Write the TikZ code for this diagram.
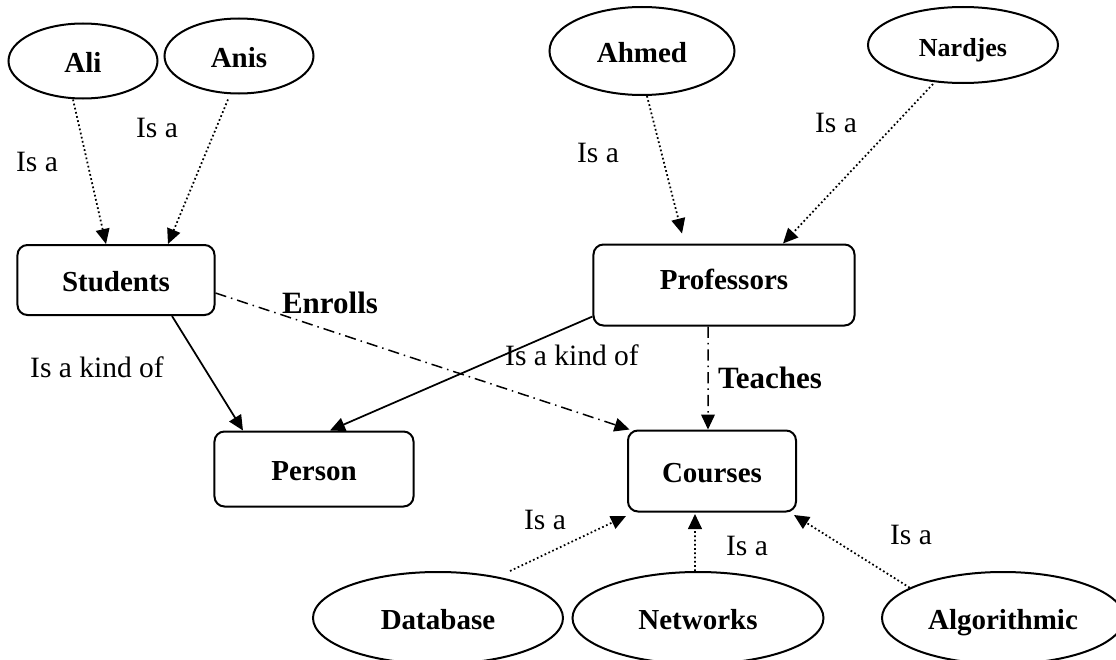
\documentclass[tikz,border=0pt]{standalone}
\usepackage{fontspec}
\setmainfont{Liberation Serif}
\usetikzlibrary{arrows.meta,shapes.geometric}

\begin{document}
\begin{tikzpicture}[x=0.4pt,y=-0.4pt,
    concept/.style={draw,line width=0.8pt,rounded corners=4pt,inner sep=0pt,
      text height=0.93em,text depth=0pt,
      font=\fontsize{11.6}{14}\selectfont\bfseries},
    instance/.style={draw,ellipse,line width=0.8pt,inner sep=0pt,
      text height=0.93em,text depth=0pt,
      font=\fontsize{11.6}{14}\selectfont\bfseries},
    isa/.style={densely dotted,line width=0.7pt,-{Triangle[length=6pt,width=5.5pt]}},
    kindof/.style={line width=0.7pt,-{Triangle[length=6pt,width=5.5pt]}},
    relation/.style={line width=0.6pt,dash pattern=on 4.5pt off 2pt on 0.6pt off 2pt,
      -{Triangle[length=6pt,width=5.5pt]}},
    lbl/.style={inner sep=0pt,font=\fontsize{11.8}{14}\selectfont},
    rellbl/.style={inner sep=0pt,font=\fontsize{12.4}{15}\selectfont\bfseries}]
  \useasboundingbox (0,0) rectangle (1116,660);

  % instances
  \node[instance,minimum width=59.6pt,minimum height=30pt] (ali) at (83,61) {Ali};
  \node[instance,minimum width=59.6pt,minimum height=30pt] (anis) at (239,56) {Anis};
  \node[instance,minimum width=74pt,minimum height=35.2pt] (ahmed) at (642,51) {Ahmed};
  \node[instance,minimum width=76pt,minimum height=30.4pt,
    font=\fontsize{10.4}{12}\selectfont\bfseries] (nardjes) at (963,45) {Nardjes};
  \node[instance,minimum width=100pt,minimum height=36.8pt] (database) at (438,618) {Database};
  \node[instance,minimum width=100.4pt,minimum height=36.8pt] (networks) at (698,618) {Networks};
  \node[instance,minimum width=96.8pt,minimum height=36.8pt] (algorithmic) at (1003,618) {Algorithmic};

  % concepts
  \node[concept,minimum width=78.8pt,minimum height=28pt] (students) at (116,280) {Students};
  \node[concept,minimum width=104.4pt,minimum height=32.4pt,text height=0.4em] (professors) at (724,285) {Professors};
  \node[concept,minimum width=79.6pt,minimum height=30pt] (person) at (314,469) {Person};
  \node[concept,minimum width=67.2pt,minimum height=32.4pt] (courses) at (712,471) {Courses};

  % is a
  \draw[isa] ([xshift=-4pt]ali.south) -- ([xshift=-4pt]students.north);
  \draw[isa] ([xshift=-4.4pt,yshift=-2pt]anis.south) -- ([xshift=20.8pt]students.north);
  \draw[isa] ([xshift=2pt]ahmed.south) -- ([xshift=-16.8pt,yshift=4pt]professors.north);
  \draw[isa] ([xshift=-12pt]nardjes.south) -- ([xshift=23.6pt]professors.north);
  \draw[isa] ([xshift=28.8pt]database.north) -- ([xshift=-0.4pt,yshift=-1.4pt]courses.south west);
  \draw[isa] ([xshift=-1.2pt]networks.north) -- ([xshift=-6.8pt,yshift=-0.6pt]courses.south);
  \draw[isa] (algorithmic.162) -- ([xshift=-1.2pt,yshift=-1pt]courses.south east);

  % is a kind of
  \draw[kindof] ([xshift=22.4pt]students.south) -- ([xshift=-28.4pt]person.north);
  \draw[kindof] ([yshift=4pt]professors.south west) -- ([xshift=6.4pt]person.north);

  % relations
  \draw[relation] ([yshift=-5.2pt]students.east) -- ([xshift=1pt]courses.north west);
  \draw[relation] ([xshift=-6.4pt]professors.south) -- ([xshift=-1.6pt]courses.north);

  % labels
  \node[lbl] (l1) at (37,162) {Is a};
  \node[lbl] (l2) at (157,128) {Is a};
  \node[lbl] (l3) at (598,153) {Is a};
  \node[lbl] (l4) at (836,123) {Is a};
  \node[lbl] (l5) at (545,520) {Is a};
  \node[lbl] (l6) at (747,546) {Is a};
  \node[lbl] (l7) at (911,535) {Is a};
  \node[lbl] (k1) at (97,367) {Is a kind of};
  \node[lbl] (k2) at (572,355) {Is a kind of};
  \node[rellbl] (enrolls) at (330,303) {Enrolls};
  \node[rellbl] (teaches) at (770,378) {Teaches};
\end{tikzpicture}
\end{document}
